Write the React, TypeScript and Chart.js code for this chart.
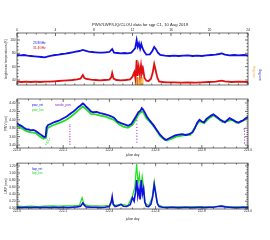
import React, { useEffect, useRef } from "react";
import { Chart, registerables } from "chart.js";

const FONT = "'Liberation Sans', Arial, sans-serif";
const TXT = "#222";

const titleText = "PWV/LWP/LIQ/CLOU data for sgp C1, 10 Aug 2019";

// ---- top panel: brightness temperatures ----
const hourTicks = [0, 4, 8, 12, 16, 20, 24];
const tbTicks = [40, 60, 80, 100];
const tb238Days = [222.0, 222.015, 222.03, 222.045, 222.06, 222.075, 222.09, 222.105, 222.12, 222.135, 222.15, 222.165, 222.18, 222.195, 222.21, 222.225, 222.24, 222.255, 222.27, 222.285, 222.295, 222.31, 222.325, 222.34, 222.355, 222.37, 222.385, 222.4, 222.412, 222.42, 222.435, 222.45, 222.465, 222.48, 222.495, 222.505, 222.512, 222.518, 222.523, 222.528, 222.533, 222.538, 222.543, 222.55, 222.56, 222.575, 222.585, 222.594, 222.6, 222.61, 222.62, 222.64, 222.66, 222.68, 222.7, 222.72, 222.74, 222.76, 222.78, 222.8, 222.82, 222.84, 222.86, 222.875, 222.887, 222.9, 222.92, 222.94, 222.96, 222.98, 223.0];
const tb238 = [77.5, 77, 77.5, 76.5, 76, 75.5, 75, 74.5, 74, 75.5, 76.5, 77.5, 78, 79, 79.5, 80.5, 81.5, 82.5, 83.5, 85, 84, 82.5, 82, 81.5, 81, 81, 81.5, 82, 86.5, 81, 80.5, 80, 80.5, 80, 81, 85, 88, 100, 90, 95, 87, 94, 88, 83, 78, 78.5, 83, 89.5, 87, 81, 77.5, 76.5, 76, 76.5, 76, 76.5, 77, 76, 76.5, 76, 77, 77.5, 78, 79, 80, 78, 77, 77.5, 77, 77.5, 77];
const tb314Days = [222.0, 222.02, 222.04, 222.06, 222.08, 222.1, 222.12, 222.14, 222.16, 222.18, 222.2, 222.22, 222.24, 222.26, 222.275, 222.285, 222.292, 222.3, 222.32, 222.34, 222.36, 222.38, 222.4, 222.408, 222.412, 222.418, 222.43, 222.45, 222.47, 222.49, 222.5, 222.508, 222.513, 222.518, 222.522, 222.527, 222.532, 222.537, 222.541, 222.546, 222.552, 222.56, 222.57, 222.58, 222.588, 222.594, 222.6, 222.607, 222.615, 222.63, 222.65, 222.68, 222.71, 222.74, 222.77, 222.8, 222.83, 222.86, 222.885, 222.9, 222.93, 222.96, 223.0];
const tb314 = [37.5, 37, 37.5, 37, 37.5, 37, 37.5, 37.5, 38, 38.5, 39, 39.5, 40, 41, 42, 47.5, 43, 41.5, 40.5, 40, 39.5, 40, 40.5, 44, 50.5, 42, 40, 39.5, 40, 41, 45, 52, 42, 70, 46, 60, 48, 62, 50, 56, 43, 39, 38.5, 42, 52, 64, 55, 44, 38, 37, 36.5, 36.5, 36, 36.5, 36, 36.5, 37, 37.5, 39, 38, 37, 37.5, 37];
const rainFlagDays = [222.512, 222.516, 222.52, 222.525, 222.53, 222.535, 222.54, 222.545];
const sunFlagDays = [222.522, 222.533];
const flagLevel = 38;

// ---- middle panel: PWV ----
const pwvTicks = [3.4, 3.6, 3.8, 4.0, 4.2, 4.4];
const dayTicks = [222.0, 222.2, 222.4, 222.6, 222.8, 223.0];
const pwvRetDays = [222.0, 222.01, 222.02, 222.03, 222.04, 222.05, 222.06, 222.07, 222.08, 222.09, 222.1, 222.11, 222.118, 222.124, 222.128, 222.135, 222.145, 222.155, 222.165, 222.175, 222.185, 222.195, 222.205, 222.215, 222.225, 222.235, 222.245, 222.255, 222.265, 222.275, 222.285, 222.292, 222.3, 222.31, 222.32, 222.33, 222.345, 222.36, 222.375, 222.39, 222.405, 222.42, 222.435, 222.45, 222.465, 222.48, 222.495, 222.505, 222.515, 222.525, 222.535, 222.54, 222.545, 222.552, 222.562, 222.575, 222.59, 222.605, 222.62, 222.635, 222.645, 222.655, 222.67, 222.685, 222.7, 222.715, 222.73, 222.745, 222.76, 222.77, 222.78, 222.79, 222.8, 222.81, 222.82, 222.83, 222.84, 222.85, 222.86, 222.87, 222.88, 222.89, 222.9, 222.91, 222.92, 222.93, 222.94, 222.95, 222.96, 222.97, 222.98, 222.99, 223.0];
const pwvRet = [3.92, 3.88, 3.85, 3.81, 3.78, 3.77, 3.75, 3.76, 3.74, 3.7, 3.66, 3.62, 3.59, 3.6, 3.82, 3.88, 3.9, 3.93, 3.95, 3.97, 3.99, 4.02, 4.05, 4.08, 4.12, 4.16, 4.2, 4.25, 4.3, 4.34, 4.39, 4.36, 4.31, 4.26, 4.2, 4.18, 4.19, 4.16, 4.14, 4.12, 4.09, 4.05, 3.96, 3.92, 3.89, 3.86, 3.9, 3.99, 4.08, 4.18, 4.22, 4.28, 4.25, 4.19, 4.08, 3.98, 3.88, 3.76, 3.64, 3.56, 3.52, 3.55, 3.59, 3.63, 3.65, 3.66, 3.64, 3.66, 3.7, 3.8, 3.93, 4.0, 3.96, 3.94, 4.02, 4.06, 4.1, 4.13, 4.09, 4.05, 4.0, 3.97, 3.94, 3.99, 4.04, 4.01, 3.98, 3.95, 3.93, 3.97, 3.99, 4.04, 4.07];
const pwvLosDays = [222.0, 222.02, 222.04, 222.06, 222.08, 222.1, 222.115, 222.125, 222.132, 222.15, 222.17, 222.19, 222.21, 222.23, 222.25, 222.27, 222.285, 222.3, 222.32, 222.34, 222.36, 222.38, 222.4, 222.42, 222.44, 222.46, 222.48, 222.5, 222.515, 222.53, 222.545, 222.56, 222.58, 222.6, 222.62, 222.64, 222.66, 222.69, 222.72, 222.75, 222.775, 222.79, 222.81, 222.83, 222.85, 222.87, 222.89, 222.91, 222.93, 222.95, 222.97, 222.99, 223.0];
const pwvLos = [3.86, 3.8, 3.73, 3.7, 3.69, 3.6, 3.55, 3.57, 3.8, 3.86, 3.9, 3.94, 3.99, 4.06, 4.15, 4.25, 4.32, 4.25, 4.14, 4.13, 4.1, 4.08, 4.04, 4.0, 3.9, 3.84, 3.81, 3.88, 4.02, 4.16, 4.2, 4.04, 3.93, 3.78, 3.61, 3.52, 3.53, 3.6, 3.63, 3.64, 3.86, 3.97, 3.92, 4.03, 4.11, 4.03, 3.95, 3.97, 4.0, 3.93, 3.95, 4.02, 4.05];
const sondeDays = [222.229, 222.229, 222.229, 222.229, 222.229, 222.229, 222.229, 222.229, 222.229, 222.519, 222.519, 222.519, 222.519, 222.519, 222.519, 222.519, 222.519, 222.985, 222.985, 222.985, 222.985, 222.985, 222.985, 222.65, 222.983];
const sondeVals = [3.42, 3.48, 3.54, 3.6, 3.66, 3.72, 3.78, 3.84, 3.88, 3.47, 3.54, 3.61, 3.68, 3.75, 3.82, 3.9, 3.98, 3.45, 3.52, 3.59, 3.66, 3.73, 3.8, 3.5, 3.78];
const losOutDays = [222.125, 222.128, 222.131, 222.134, 222.138, 222.141];
const losOutVals = [3.42, 3.47, 3.52, 3.45, 3.5, 3.55];

// ---- bottom panel: LWP ----
const lwpTicks = [0, 0.2, 0.4, 0.6, 0.8, 1.0, 1.2];
const lwpRetDays = [222.0, 222.02, 222.04, 222.06, 222.08, 222.1, 222.12, 222.14, 222.16, 222.18, 222.2, 222.22, 222.24, 222.26, 222.275, 222.285, 222.292, 222.3, 222.32, 222.34, 222.36, 222.38, 222.4, 222.408, 222.412, 222.416, 222.425, 222.44, 222.45, 222.46, 222.475, 222.49, 222.5, 222.507, 222.513, 222.518, 222.523, 222.528, 222.533, 222.538, 222.543, 222.548, 222.553, 222.56, 222.57, 222.58, 222.588, 222.594, 222.6, 222.607, 222.615, 222.63, 222.65, 222.67, 222.69, 222.71, 222.73, 222.75, 222.77, 222.79, 222.81, 222.83, 222.85, 222.87, 222.885, 222.9, 222.92, 222.94, 222.96, 222.98, 223.0];
const lwpRet = [0.03, 0.02, 0.03, 0.02, 0.03, 0.02, 0.03, 0.02, 0.03, 0.02, 0.03, 0.02, 0.03, 0.04, 0.06, 0.15, 0.08, 0.04, 0.03, 0.03, 0.02, 0.03, 0.05, 0.18, 0.33, 0.12, 0.05, 0.08, 0.11, 0.06, 0.05, 0.1, 0.3, 0.2, 0.45, 0.8, 0.35, 0.55, 0.25, 0.8, 0.4, 0.55, 0.18, 0.06, 0.05, 0.12, 0.35, 0.67, 0.45, 0.15, 0.05, 0.03, 0.02, 0.03, 0.02, 0.02, 0.03, 0.02, 0.02, 0.03, 0.02, 0.03, 0.03, 0.05, 0.06, 0.04, 0.03, 0.02, 0.02, 0.03, 0.02];
const lwpLosDays = [222.0, 222.03, 222.06, 222.09, 222.12, 222.15, 222.18, 222.21, 222.24, 222.27, 222.282, 222.29, 222.31, 222.34, 222.37, 222.4, 222.412, 222.42, 222.45, 222.48, 222.5, 222.51, 222.518, 222.524, 222.53, 222.536, 222.542, 222.548, 222.555, 222.57, 222.585, 222.594, 222.6, 222.61, 222.63, 222.66, 222.7, 222.74, 222.78, 222.82, 222.86, 222.885, 222.91, 222.95, 223.0];
const lwpLos = [0.06, 0.05, 0.06, 0.05, 0.06, 0.07, 0.06, 0.07, 0.07, 0.08, 0.3, 0.12, 0.07, 0.07, 0.06, 0.08, 0.28, 0.08, 0.12, 0.08, 0.35, 0.6, 1.25, 0.7, 0.95, 0.5, 0.9, 0.6, 0.15, 0.07, 0.3, 0.75, 0.4, 0.1, 0.05, 0.04, 0.04, 0.04, 0.05, 0.04, 0.05, 0.07, 0.05, 0.04, 0.04];

const BLUE = "#1010e0";
const RED = "#e01010";
const GREEN = "#22e022";
const PURPLE = "#9a20c8";
const ORANGE = "#f4a820";

const pts = (xs: number[], ys: number[]) => xs.map((x, i) => ({ x, y: ys[i] }));

const framePlugin = {
  id: "frame",
  afterDatasetsDraw(chart: any, _a: any, opts: any) {
    const { ctx, chartArea: a } = chart;
    const xs = chart.scales.x;
    const ys = chart.scales.y;
    ctx.save();
    ctx.strokeStyle = "#333";
    ctx.lineWidth = 0.7;
    ctx.strokeRect(a.left, a.top, a.right - a.left, a.bottom - a.top);
    ctx.beginPath();
    const MJ = 3;
    const MN = 1.5;
    const doAxis = (sc: any, nMinor: number, horiz: boolean) => {
      const tv: number[] = sc.ticks.map((t: any) => t.value);
      const mark = (v: number, len: number) => {
        if (v < sc.min - 1e-9 || v > sc.max + 1e-9) return;
        const p = sc.getPixelForValue(v);
        if (horiz) {
          ctx.moveTo(p, a.top); ctx.lineTo(p, a.top + len);
          ctx.moveTo(p, a.bottom); ctx.lineTo(p, a.bottom - len);
        } else {
          ctx.moveTo(a.left, p); ctx.lineTo(a.left + len, p);
          ctx.moveTo(a.right, p); ctx.lineTo(a.right - len, p);
        }
      };
      if (tv.length < 2) return;
      const step = (tv[1] - tv[0]) / nMinor;
      for (let i = 0; i < tv.length; i++) mark(tv[i], MJ);
      for (let v = tv[0] - step; v >= sc.min; v -= step) mark(v, MN);
      for (let i = 0; i < tv.length; i++) {
        for (let k = 1; k < nMinor; k++) mark(tv[i] + step * k, MN);
      }
    };
    doAxis(xs, opts.xMinor || 4, true);
    doAxis(ys, opts.yMinor || 4, false);
    ctx.stroke();
    ctx.restore();
  },
};

const notesPlugin = {
  id: "notes",
  afterDraw(chart: any, _a: any, opts: any) {
    const ctx = chart.ctx;
    (opts.items || []).forEach((it: any) => {
      const ds = it.ds !== undefined ? chart.data.datasets[it.ds] : null;
      const text = ds ? ds.label : it.text;
      const color = ds ? ds.borderColor : it.color || TXT;
      ctx.save();
      ctx.font = `${it.size || 3.2}px ${FONT}`;
      ctx.fillStyle = color;
      ctx.textAlign = it.align || "left";
      ctx.textBaseline = "middle";
      ctx.translate(it.x, it.y);
      if (it.rot) ctx.rotate(it.rot);
      ctx.fillText(text, 0, 0);
      ctx.restore();
    });
  },
};

Chart.register(...registerables, framePlugin, notesPlugin);

const font = (size: number) => ({ size, family: FONT, lineHeight: 1 });

function yScale(min: number, max: number, tickVals: number[], fmt: (v: number) => string, title: string) {
  return {
    type: "linear",
    position: "left",
    min,
    max,
    grid: { display: false, drawTicks: false },
    border: { display: false },
    afterBuildTicks: (s: any) => {
      s.ticks = tickVals.map((v) => ({ value: v }));
    },
    afterFit: (s: any) => {
      s.width = 17;
    },
    ticks: { font: font(3.2), color: TXT, padding: 1.5, autoSkip: false, callback: (v: any) => fmt(Number(v)) },
    title: { display: true, text: title, font: font(3.2), color: TXT, padding: { top: 5, bottom: 0 } },
  };
}

function xScale(position: string, tickVals: number[], fmt: (v: number) => string, height: number, title?: string) {
  return {
    type: "linear",
    position,
    min: 222,
    max: 223,
    grid: { display: false, drawTicks: false },
    border: { display: false },
    afterBuildTicks: (s: any) => {
      s.ticks = tickVals.map((v) => ({ value: v }));
    },
    afterFit: (s: any) => {
      s.height = height;
    },
    ticks: { font: font(3.2), color: TXT, padding: 1, maxRotation: 0, autoSkip: false, callback: (v: any) => fmt(Number(v)) },
    title: title
      ? { display: true, text: title, font: font(3.2), color: TXT, padding: { top: 0, bottom: 0 } }
      : { display: false },
  };
}

const lineDs = (label: string, data: any[], color: string, w = 1.5) => ({
  type: "line",
  label,
  data,
  borderColor: color,
  backgroundColor: color,
  borderWidth: w,
  pointRadius: 0,
  tension: 0,
});

const dotDs = (label: string, data: any[], color: string, r: number) => ({
  type: "scatter",
  label,
  data,
  borderColor: color,
  backgroundColor: color,
  pointRadius: r,
  borderWidth: 0,
  showLine: false,
});

const basePlugins = (items: any[], xMinor: number, yMinor: number) => ({
  legend: { display: false },
  tooltip: { enabled: false },
  title: { display: false },
  frame: { xMinor, yMinor },
  notes: { items },
});

function makeTop(): any {
  return {
    type: "line",
    data: {
      datasets: [
        lineDs("23.8GHz", pts(tb238Days, tb238), BLUE, 1.8),
        lineDs("31.4GHz", pts(tb314Days, tb314), RED, 1.8),
        {
          type: "scatter",
          label: "rain flag",
          data: rainFlagDays.map((d) => ({ x: d, y: flagLevel })),
          borderColor: ORANGE,
          backgroundColor: ORANGE,
          pointStyle: "line",
          rotation: 90,
          pointRadius: 4,
          borderWidth: 1,
        },
        {
          type: "scatter",
          label: "sun flag",
          data: sunFlagDays.map((d) => ({ x: d, y: flagLevel })),
          borderColor: BLUE,
          backgroundColor: BLUE,
          pointStyle: "line",
          rotation: 90,
          pointRadius: 4,
          borderWidth: 1,
        },
      ],
    },
    options: {
      responsive: false,
      animation: false,
      layout: { padding: { left: 0, right: 22, top: 0, bottom: 10 } },
      scales: {
        x: xScale("top", hourTicks.map((h) => 222 + h / 24), (v) => String(Math.round((v - 222) * 24)), 33),
        y: yScale(32.5, 110.5, tbTicks, (v) => String(v), "brightness temperatures (K)"),
      },
      plugins: basePlugins(
        [
          { text: titleText, x: 140, y: 25, size: 4.2, align: "center", color: TXT },
          { ds: 0, x: 33, y: 43 },
          { ds: 1, x: 33, y: 48 },
          { ds: 2, x: 254, y: 72, rot: -Math.PI / 2, align: "center" },
          { ds: 3, x: 260, y: 75, rot: -Math.PI / 2, align: "center" },
        ],
        4,
        4
      ),
    },
  };
}

function makeMid(): any {
  return {
    type: "line",
    data: {
      datasets: [
        lineDs("pwv_ret", pts(pwvRetDays, pwvRet), BLUE, 1.8),
        lineDs("pwv_los", pts(pwvLosDays, pwvLos), GREEN, 1.8),
        dotDs("sonde_pwv", pts(sondeDays, sondeVals), PURPLE, 0.6),
        dotDs("los_out", pts(losOutDays, losOutVals), GREEN, 0.6),
      ],
    },
    options: {
      responsive: false,
      animation: false,
      layout: { padding: { left: 0, right: 22, top: 4, bottom: 3.4 } },
      scales: {
        x: xScale("bottom", dayTicks, (v) => v.toFixed(1), 8.6, "julian day"),
        y: yScale(3.33, 4.495, pwvTicks, (v) => v.toFixed(2), "PWV (cm)"),
      },
      plugins: basePlugins(
        [
          { ds: 0, x: 32, y: 10 },
          { ds: 1, x: 32, y: 15 },
          { ds: 2, x: 55, y: 10 },
        ],
        4,
        4
      ),
    },
  };
}

function makeBot(): any {
  return {
    type: "line",
    data: {
      datasets: [
        lineDs("lwp_ret", pts(lwpRetDays, lwpRet), BLUE, 1.6),
        lineDs("lwp_los", pts(lwpLosDays, lwpLos), GREEN, 1.2),
      ],
    },
    options: {
      responsive: false,
      animation: false,
      layout: { padding: { left: 0, right: 22, top: 3, bottom: 18.9 } },
      scales: {
        x: xScale("bottom", dayTicks, (v) => v.toFixed(1), 12.1, "julian day"),
        y: yScale(-0.02, 1.28, lwpTicks, (v) => v.toFixed(2), "LWP (mm)"),
      },
      plugins: basePlugins(
        [
          { ds: 0, x: 32, y: 9 },
          { ds: 1, x: 32, y: 13 },
        ],
        4,
        4
      ),
    },
  };
}

function Panel({ top, height, make }: { top: number; height: number; make: () => any }) {
  const ref = useRef<HTMLCanvasElement>(null);
  useEffect(() => {
    const chart = new Chart(ref.current as HTMLCanvasElement, make());
    return () => chart.destroy();
  }, []);
  return (
    <canvas
      ref={ref}
      width={270}
      height={height}
      style={{ position: "absolute", left: 0, top, width: 270, height, display: "block" }}
    />
  );
}

export default function App() {
  return (
    <div style={{ position: "absolute", left: 0, top: 0, width: 270, height: 240, background: "#fff" }}>
      <Panel top={0} height={95} make={makeTop} />
      <Panel top={95} height={65} make={makeMid} />
      <Panel top={160} height={80} make={makeBot} />
    </div>
  );
}
